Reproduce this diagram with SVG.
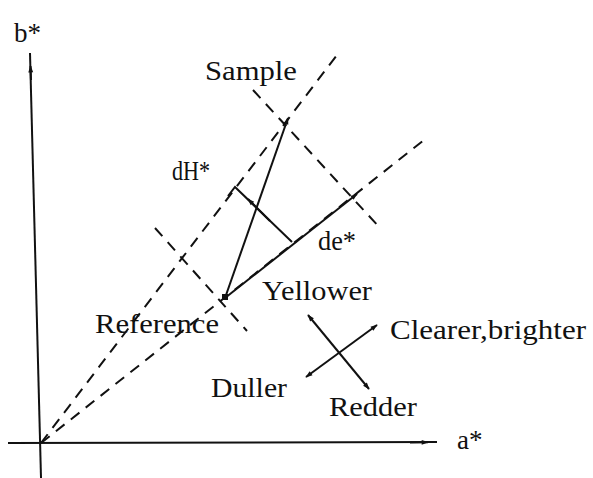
<svg xmlns="http://www.w3.org/2000/svg" width="593" height="478" viewBox="0 0 593 478">
<style>
.ax{stroke:#111;stroke-width:2;fill:none}
.sl{stroke:#111;stroke-width:2;fill:none}
.dl{stroke:#111;stroke-width:2;fill:none;stroke-dasharray:11,8}
text{font-family:"Liberation Serif","Times New Roman",serif;fill:#111;font-size:27px}
</style>
<defs>
<marker id="ah" viewBox="0 0 10 10" refX="9" refY="5" markerWidth="12" markerHeight="7" orient="auto-start-reverse" markerUnits="userSpaceOnUse">
<path d="M0,1.5 L10,5 L0,8.5 Z" fill="#111"/>
</marker>
</defs>
<rect width="593" height="478" fill="#fff"/>
<g id="connectors">
<line id="b-axis" class="ax" x1="41" y1="478" x2="30" y2="53"/>
<line class="ax" x1="31" y1="80" x2="30.5" y2="66" marker-end="url(#ah)"/>
<line id="a-axis" class="ax" x1="8" y1="443" x2="437" y2="442"/>
<line class="ax" x1="410" y1="442.5" x2="428" y2="442.3" marker-end="url(#ah)"/>
<line class="dl" x1="41" y1="443" x2="337" y2="55"/>
<line class="dl" x1="41" y1="443" x2="424" y2="140"/>
<line class="dl" x1="253" y1="90" x2="381" y2="229"/>
<line class="dl" x1="155" y1="228" x2="247" y2="331"/>
<line class="sl" x1="225" y1="298" x2="288" y2="118" marker-end="url(#ah)"/>
<line class="sl" x1="225" y1="298" x2="357" y2="194" marker-end="url(#ah)"/>
<polyline class="sl" points="292,242 235,187 228,196"/>
<line class="sl" x1="270" y1="221" x2="248" y2="199" marker-end="url(#ah)"/>
<line class="sl" x1="308" y1="315" x2="369" y2="389" marker-start="url(#ah)" marker-end="url(#ah)"/>
<line class="sl" x1="306" y1="377" x2="377" y2="325" marker-start="url(#ah)" marker-end="url(#ah)"/>
<rect x="222" y="294" width="6" height="6" fill="#111"/>
</g>
<g id="labels">
<text x="14" y="42" font-size="28">b*</text>
<text x="205" y="80" textLength="92" lengthAdjust="spacingAndGlyphs">Sample</text>
<text x="172" y="180" textLength="38" lengthAdjust="spacingAndGlyphs">dH*</text>
<text x="318" y="250" textLength="38" lengthAdjust="spacingAndGlyphs">de*</text>
<text x="262" y="300" textLength="110" lengthAdjust="spacingAndGlyphs">Yellower</text>
<text x="95" y="333" textLength="124" lengthAdjust="spacingAndGlyphs">Reference</text>
<text x="390" y="339" textLength="196" lengthAdjust="spacingAndGlyphs">Clearer,brighter</text>
<text x="211" y="397" textLength="76" lengthAdjust="spacingAndGlyphs">Duller</text>
<text x="329" y="416" textLength="88" lengthAdjust="spacingAndGlyphs">Redder</text>
<text x="457" y="449" font-size="23">a*</text>
</g>
</svg>
